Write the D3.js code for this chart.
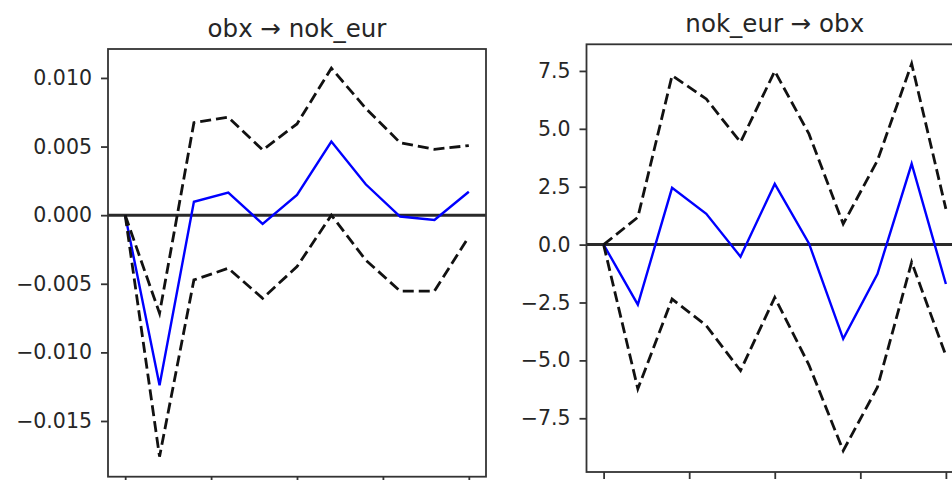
<!DOCTYPE html>
<html>
<head>
<meta charset="utf-8">
<script src="https://cdn.jsdelivr.net/npm/d3@7"></script>
<style>
  body { margin: 0; background: #fff; }
  text { font-family: "DejaVu Sans", sans-serif; fill: #262626; }
</style>
</head>
<body>
<div id="chart"></div>
<script>
// impulse response steps
var steps = [0, 1, 2, 3, 4, 5, 6, 7, 8, 9, 10];
var xTicks = [0, 2.5, 5, 7.5, 10];

// obx -> nok_eur
var irfObxNok   = [0, -0.0124, 0.00098, 0.00164, -0.00064, 0.00147, 0.00536, 0.00225, -0.0001, -0.00035, 0.00171];
var upperObxNok = [0, -0.00715, 0.00674, 0.00714, 0.00475, 0.00665, 0.01071, 0.00779, 0.00528, 0.0048, 0.00507];
var lowerObxNok = [0, -0.0176, -0.00472, -0.00387, -0.00606, -0.00375, 0.0000, -0.00327, -0.00553, -0.00553, -0.00157];
var yTicksLeft  = [-0.015, -0.010, -0.005, 0, 0.005, 0.010];

// nok_eur -> obx
var irfNokObx   = [0, -2.59, 2.45, 1.33, -0.52, 2.62, 0.05, -4.07, -1.27, 3.49, -1.70];
var upperNokObx = [0, 1.18, 7.30, 6.29, 4.42, 7.49, 4.78, 0.89, 3.63, 7.81, 1.54];
var lowerNokObx = [0, -6.23, -2.35, -3.50, -5.44, -2.28, -5.2, -8.90, -6.16, -0.76, -4.79];
var yTicksRight = [-7.5, -5.0, -2.5, 0, 2.5, 5.0, 7.5];

var svg = d3.select("#chart").append("svg")
	.attr("width", 952)
	.attr("height", 480);

var minus = function(s) { return s.replace("-", "\u2212"); };

function panel(cfg) {
	var g = svg.append("g");

	var x = d3.scaleLinear().domain([-0.5, 10.5]).range([cfg.left, cfg.right]);
	var y = d3.scaleLinear().domain(cfg.yDomain).range([cfg.bottom, cfg.top]);

	var line = d3.line()
		.x(function(d, i) { return x(steps[i]); })
		.y(function(d) { return y(d); });

	// zero line
	g.append("line")
		.attr("x1", cfg.left).attr("x2", cfg.right)
		.attr("y1", y(0)).attr("y2", y(0))
		.attr("stroke", "#2a2a2a")
		.attr("stroke-width", 3);

	g.append("path")
		.datum(cfg.irf)
		.attr("d", line)
		.attr("fill", "none")
		.attr("stroke", "#0000ff")
		.attr("stroke-width", 2.4);

	[cfg.upper, cfg.lower].forEach(function(band) {
		g.append("path")
			.datum(band)
			.attr("d", line)
			.attr("fill", "none")
			.attr("stroke", "#111")
			.attr("stroke-width", 2.8)
			.attr("stroke-dasharray", "11,5");
	});

	var yAxis = d3.axisLeft(y)
		.tickValues(cfg.yTicks)
		.tickSize(7)
		.tickPadding(9)
		.tickFormat(function(d) { return minus(d3.format(cfg.fmt)(d)); });
	var ya = g.append("g")
		.attr("transform", "translate(" + cfg.left + ",0)")
		.call(yAxis);
	ya.select(".domain").remove();
	ya.selectAll("line").attr("stroke", "#333").attr("stroke-width", 1.8);
	ya.selectAll("text").attr("font-size", "20.5px").attr("fill", "#262626")
		.style("font-family", "DejaVu Sans");

	// x tick labels sit below the visible area, only the marks show
	var xAxis = d3.axisBottom(x)
		.tickValues(xTicks)
		.tickSize(7)
		.tickFormat("");
	var xa = g.append("g")
		.attr("transform", "translate(0," + cfg.bottom + ")")
		.call(xAxis);
	xa.select(".domain").remove();
	xa.selectAll("line").attr("stroke", "#333").attr("stroke-width", 1.8);

	// frame
	g.append("rect")
		.attr("x", cfg.left).attr("y", cfg.top)
		.attr("width", cfg.right - cfg.left)
		.attr("height", cfg.bottom - cfg.top)
		.attr("fill", "none")
		.attr("stroke", "#333")
		.attr("stroke-width", 1.8);

	g.append("text")
		.attr("x", (cfg.left + cfg.right) / 2)
		.attr("y", cfg.top - 12)
		.attr("text-anchor", "middle")
		.attr("font-size", "24.5px")
		.text(cfg.title);
}

panel({
	title: "obx \u2192 nok_eur",
	left: 108, right: 486, top: 49, bottom: 476.7,
	yDomain: [-0.01906, 0.01211],
	yTicks: yTicksLeft, fmt: ".3f",
	irf: irfObxNok, upper: upperObxNok, lower: lowerObxNok
});

panel({
	title: "nok_eur \u2192 obx",
	left: 586.5, right: 963, top: 44.3, bottom: 472,
	yDomain: [-9.82, 8.65],
	yTicks: yTicksRight, fmt: ".1f",
	irf: irfNokObx, upper: upperNokObx, lower: lowerNokObx
});
</script>
</body>
</html>
